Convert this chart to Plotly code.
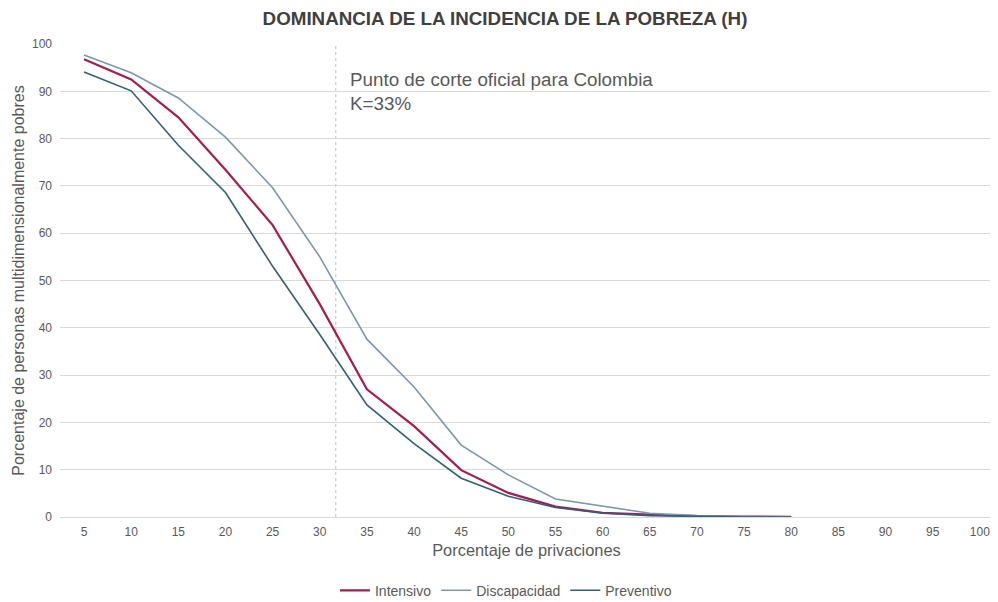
import plotly.graph_objects as go

privaciones = [5, 10, 15, 20, 25, 30, 35, 40, 45, 50, 55, 60, 65, 70, 75, 80]
intensivo = [96.8, 92.5, 84.5, 73.4, 61.7, 45.0, 27.0, 19.2, 9.9, 5.1, 2.2, 0.9, 0.5, 0.2, 0.1, 0.05]
discapacidad = [97.7, 93.9, 88.6, 80.3, 69.6, 55.0, 37.6, 27.5, 15.2, 8.9, 3.8, 2.3, 0.8, 0.3, 0.05, 0.0]
preventivo = [94.1, 90.1, 78.6, 68.6, 53.0, 38.6, 23.7, 15.5, 8.2, 4.4, 2.0, 0.8, 0.3, 0.1, 0.0, 0.0]
x_ticks = list(range(5, 105, 5))
y_ticks = list(range(0, 110, 10))
cutoff_x = 31.7

font_family = "Liberation Sans, Arial, sans-serif"
gray = "#595959"

fig = go.Figure()
fig.add_trace(go.Scatter(x=privaciones, y=intensivo, mode="lines", name="Intensivo",
                         line=dict(color="#A61C4E", width=2.2)))
fig.add_trace(go.Scatter(x=privaciones, y=discapacidad, mode="lines", name="Discapacidad",
                         line=dict(color="#7A97B3", width=1.6)))
fig.add_trace(go.Scatter(x=privaciones, y=preventivo, mode="lines", name="Preventivo",
                         line=dict(color="#2F607E", width=1.6)))

fig.add_shape(type="line", xref="x", yref="paper", x0=cutoff_x, x1=cutoff_x, y0=0, y1=1,
              line=dict(color="#BFBFBF", width=1, dash="dot"), layer="below")

fig.add_annotation(x=cutoff_x, y=95.2, xref="x", yref="y", xanchor="left", yanchor="top",
                   xshift=12, showarrow=False, align="left",
                   text="Punto de corte oficial para Colombia<br>K=33%",
                   font=dict(family=font_family, size=18.8, color=gray))

fig.update_layout(
    width=990, height=594,
    paper_bgcolor="white", plot_bgcolor="white",
    margin=dict(l=52, r=5, t=36, b=85, autoexpand=False),
    title=dict(text="<b>DOMINANCIA DE LA INCIDENCIA DE LA POBREZA (H)</b>",
               x=0.502, xanchor="center", y=1 - 10 / 594, yanchor="middle",
               font=dict(family=font_family, size=18.8, color="#404040"), automargin=False),
    font=dict(family=font_family, color=gray),
    legend=dict(orientation="h", x=0.478, xanchor="center", y=-0.122, yanchor="top",
                itemwidth=30,
                font=dict(family=font_family, size=14, color=gray)),
    xaxis=dict(range=[2.45, 101.4], tickmode="array", tickvals=x_ticks,
               ticktext=[str(v) for v in x_ticks], showgrid=False, zeroline=False,
               showline=False, ticks="", tickfont=dict(size=12, color=gray),
               ticklabelstandoff=6, automargin=False,
               title=dict(text="Porcentaje de privaciones", standoff=6,
                          font=dict(size=16.4, color=gray))),
    yaxis=dict(range=[0, 100], tickmode="array", tickvals=y_ticks,
               showgrid=True, gridcolor="#D9D9D9", gridwidth=1, zeroline=True,
               zerolinecolor="#D9D9D9", zerolinewidth=1, ticks="", ticklen=0,
               tickfont=dict(size=12, color=gray), ticklabelstandoff=7, automargin=False,
               title=dict(text="Porcentaje de personas multidimensionalmente pobres",
                          standoff=3, font=dict(size=16, color=gray))),
)

fig.write_html("out.html")
